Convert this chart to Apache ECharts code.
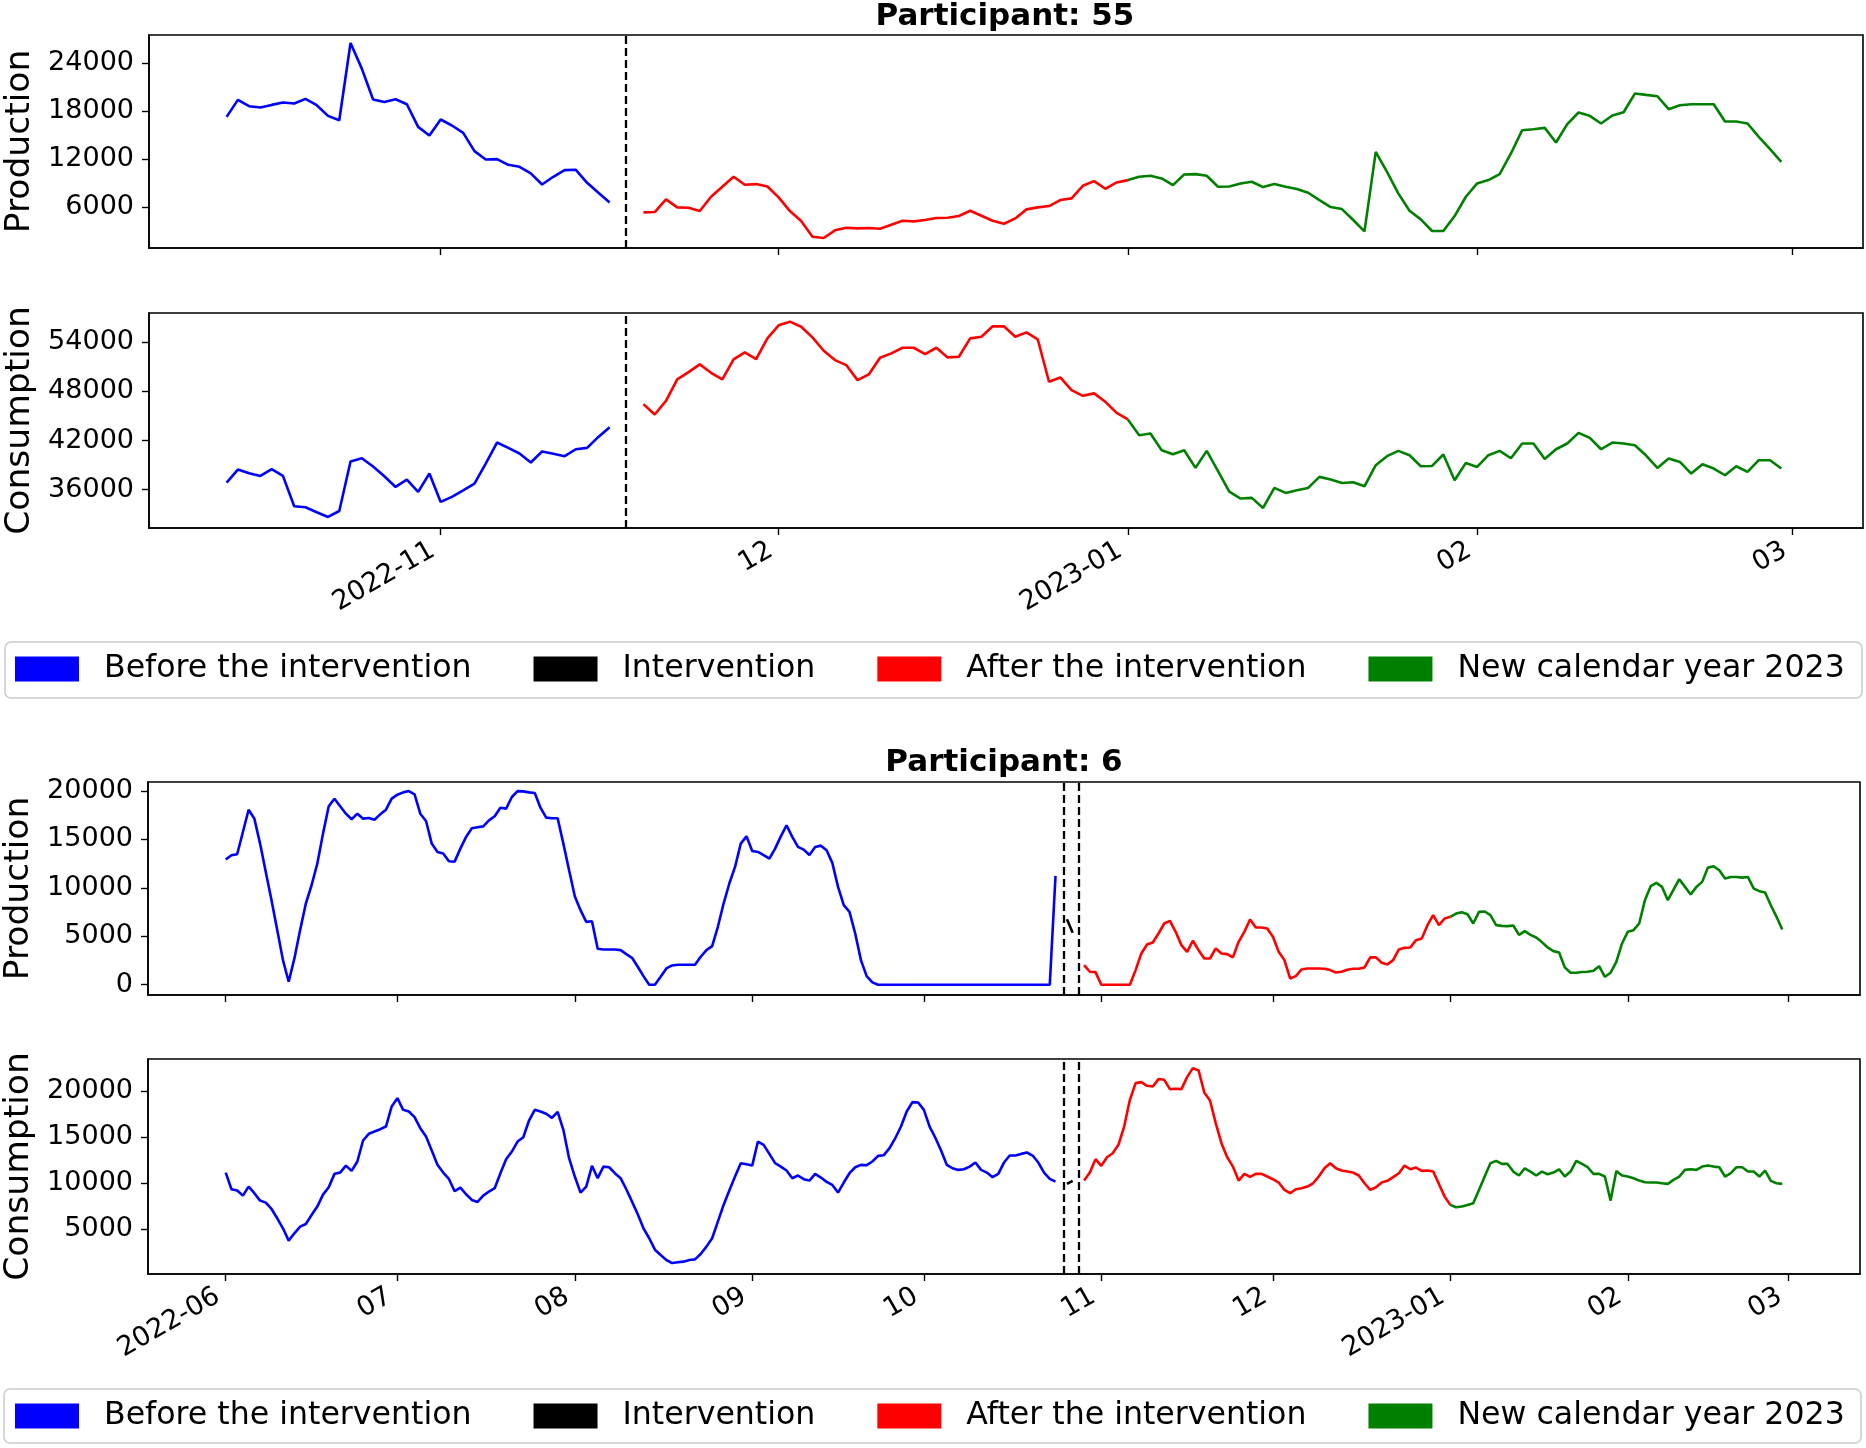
<!DOCTYPE html>
<html><head><meta charset="utf-8">
<script src="https://cdn.jsdelivr.net/npm/echarts@6/dist/echarts.min.js"></script>
<style>html,body{margin:0;padding:0;background:#fff}#c{width:1866px;height:1448px}</style>
</head><body><div id="c"></div>
<script>
// ---------------- DATA ----------------
const legendNames = ['Before the intervention', 'Intervention', 'After the intervention', 'New calendar year 2023'];
const titles = ['Participant: 55', 'Participant: 6'];

// Participant 55 (daily values)
const p55BeforeStart = '2022-10-13';
const p55AfterStart = '2022-11-19';
const p55NewStart = '2023-01-01';
const p55Intervention = ['2022-11-17T10:00'];
const p55ProdBefore = [17290,19415,18625,18458,18790,19083,18960,19540,18750,17415,16875,26540,23333,19458,19165,19500,18875,16040,14960,16960,16210,15290,13000,11960,12000,11290,11040,10210,8830,9790,10625,10665,9040,7790,6585];
const p55ProdAfter = [5335,5375,6960,5960,5920,5500,7290,8540,9790,8790,8875,8580,
  7210,5500,4250,2290,2125,3085,3415,3330,3375,3290,3790,4290,4210,4375,
  4625,4665,4875,5540,4915,4290,3915,4580,5710,5960,6125,6875,7085,8665,9250,8290,9085];
const p55ProdNew = [9375,9790,9915,9585,8750,10085,10125,9915,8540,8580,8960,9170,8500,8875,8540,8250,7790,6875,6000,5750,4375,2960,12915,10415,7710,5540,4460,3000,3000,4875,7290,
  8960,9375,10125,12710,15625,15750,15915,14085,16375,17835,17420,16460,17460,17875,20210,20040,19875,18250,18750,18875,18875,18875,16710,16710,16460,14790,13250,11665];
const p55ConsBefore = [36857,38450,38000,37670,38490,37670,33960,33830,33220,32650,33380,39430,39830,38820,37630,36320,37220,35710,37960,34490,35100,35910,36730,39180,41750,41100,40410,39310,40650,40370,40080,40930,41100,42440,43630];
const p55ConsAfter = [46450,45180,46850,49470,50360,51310,50280,49470,51920,52780,51960,54490,
  56080,56530,55910,54610,52970,51830,51220,49380,50080,52120,52650,53340,53340,52570,
  53340,52160,52240,54490,54690,55960,55960,54690,55220,54370,49180,49710,48160,47460,47760,46730,45380];
const p55ConsNew = [44570,42650,42860,40810,40320,40810,38650,40730,38240,35750,34900,34980,33750,36200,35590,35910,36200,37550,37220,36810,36890,36400,38980,40080,40730,40200,38850,38890,40290,37140,39260,
  38770,40200,40730,39830,41630,41630,39750,40930,41630,42930,42320,40930,41750,41630,41420,40160,38650,39800,39380,37960,39100,38570,37750,38850,38160,39590,39590,38570];
const p55XRange = ['2022-10-06T02:40', '2023-03-07T06:00'];
const p55TickDates = ['2022-11-01','2022-12-01','2023-01-01','2023-02-01','2023-03-01'];
const p55TickLabels = ['2022-11','12','2023-01','02','03'];
const p55ProdRange = [875, 27540];
const p55ProdTicks = [6000, 12000, 18000, 24000];
const p55ConsRange = [31300, 57590];
const p55ConsTicks = [36000, 42000, 48000, 54000];

// Participant 6 (daily values)
const p6BeforeStart = '2022-06-01';
const p6InterStart = '2022-10-26';
const p6AfterStart = '2022-10-29';
const p6NewStart = '2023-01-01';
const p6Intervention = ['2022-10-25T12:00', '2022-10-28T01:00'];
const p6ProdBefore = [12920,13366,13470,15770,18070,17145,14570,11650,8730,5640,
  2540,310,2715,5640,8385,10270,12500,15600,18420,19210,
  18420,17660,17080,17660,17145,17210,17040,17590,18070,19210,
  19620,19860,19990,19650,17660,16900,14570,13710,13540,12750,
  12710,14050,15260,16150,16250,16350,16970,17390,18280,18180,
  19380,19990,19960,19860,19790,18280,17250,17180,17180,14570,
  11820,9140,7700,6490,6560,3710,3640,3640,3640,3570,
  3160,2780,1860,890,0,0,820,1680,1990,2060,
  2060,2060,2060,2890,3570,3990,5980,8380,10450,12160,
  14570,15320,13810,13710,13370,13020,14050,15320,16460,15260,
  14230,13950,13400,14230,14360,13880,12580,10100,8210,7520,
  5290,2540,890,240,
  0,0,0,0,0,0,0,0,0,0,0,0,0,0,0,0,0,0,0,0,0,0,0,0,0,0,0,0,0,0,0,
  11236];
const p6ProdInter = [6770, 5360];
const p6ProdAfter = [2030,1340,1305,0,0,0,0,0,0,1510,
  3230,4160,4360,5290,6320,6600,5460,4090,3400,4540,
  3570,2710,2710,3750,3230,3160,2820,4430,5460,6730,
  5910,5910,5800,4950,3400,2540,650,890,1580,1680,
  1680,1680,1650,1510,1270,1340,1550,1650,1650,1790,
  2820,2820,2270,2100,2540,3640,3810,3850,4600,4780,
  6150,7180,6150,6840];
const p6ProdNew = [7010,7350,7490,7280,6320,7520,
  7560,7180,6150,6080,6050,6120,5150,5530,5150,4880,
  4400,3850,3470,3330,1790,1240,1240,1310,1340,1440,
  1920,820,1240,2370,4260,5460,5630,6320,8730,10170,
  10510,10100,8730,9830,10890,10100,9310,10100,10620,12090,
  12230,11820,10960,11130,11130,11060,11130,9930,9660,9520,
  8210,7010,5700];
const p6ConsBefore = [11120,9310,9170,8620,9600,8880,8080,7860,7170,6160,
  5070,3730,4530,5250,5540,6520,7430,8730,9530,10980,
  11120,11880,11300,12320,14600,15330,15580,15830,16120,18300,
  19200,17930,17750,17140,15940,15040,13510,11960,11120,10430,
  9090,9490,8770,8150,7930,8620,9060,9420,11050,12570,
  13400,14490,14960,16770,17930,17750,17500,17060,17720,15760,
  12680,10690,8950,9600,11850,10510,11770,11700,11050,10510,
  9310,7970,6590,5070,3990,2750,2170,1630,1300,1380,
  1450,1630,1700,2280,3080,3990,5800,7610,9170,10690,
  12140,12030,11880,14490,14130,13150,12140,11770,11340,10510,
  10800,10400,10250,10980,10580,10110,9780,8950,10040,11050,
  11700,11960,11920,12320,12930,13010,13770,14850,16120,17750,
  18770,18730,17930,16100,14900,13510,11960,11590,11410,11480,
  11770,12210,11410,11120,10620,10980,12210,12970,12970,13150,
  13300,12970,12210,11120,10430,10140];
const p6ConsInter = [9890, 10220];
const p6ConsAfter = [10250,11120,12570,11850,12790,13220,14130,16120,19020,20830,
  20940,20540,20470,21270,21190,20180,20220,20180,21480,22460,
  22210,19820,18950,16490,14310,12790,11770,10250,10980,10650,
  10980,10980,10690,10400,10040,9240,8880,9310,9420,9600,
  9960,10690,11590,12140,11590,11340,11230,11120,10800,9960,
  9240,9530,10040,10220,10620,11050,11880,11480,11670,11300,
  11340,11230,9890,8510];
const p6ConsNew = [7610,7350,7430,7610,7790,9240,
  10690,12140,12390,12060,12060,11230,10800,11590,11230,10800,
  11230,10940,11120,11480,10690,11230,12390,12060,11700,10980,
  10980,10690,8080,11300,10800,10690,10510,10250,10070,10040,
  10040,9960,9890,10330,10690,11410,11480,11410,11770,11880,
  11770,11700,10690,11050,11700,11700,11230,11230,10690,11340,
  10220,9960,9890];
const p6XRange = ['2022-05-18T10:00', '2023-03-13T14:00'];
const p6TickDates = ['2022-06-01','2022-07-01','2022-08-01','2022-09-01','2022-10-01','2022-11-01','2022-12-01','2023-01-01','2023-02-01','2023-03-01'];
const p6TickLabels = ['2022-06','07','08','09','10','11','12','2023-01','02','03'];
const p6ProdRange = [-1060, 20930];
const p6ProdTicks = [0, 5000, 10000, 15000, 20000];
const p6ConsRange = [110, 23450];
const p6ConsTicks = [5000, 10000, 15000, 20000];

// ---------------- BUILD ----------------
const DAY = 86400000;
const FONT = 'DejaVu Sans';
const COL = {before: '#0000ff', inter: '#000000', after: '#ff0000', next: '#008000'};
function ts(s) { return Date.parse(s.length === 10 ? s + 'T00:00:00Z' : s + ':00Z'); }
function daily(start, values) { const t0 = ts(start); return values.map((v, i) => [t0 + i * DAY, v]); }

const grids = [
  {left: 149, top: 35, width: 1714, height: 213},
  {left: 149, top: 313, width: 1714, height: 215},
  {left: 148, top: 782, width: 1712, height: 213},
  {left: 148, top: 1059, width: 1712, height: 215}
].map(g => Object.assign({show: true, borderColor: '#000', borderWidth: 1.6, containLabel: false, outerBoundsMode: 'none', backgroundColor: 'transparent'}, g));

function xAxis(idx, range, tickDates, tickLabels, showLabels) {
  const tv = tickDates.map(ts);
  return {
    type: 'value', gridIndex: idx, min: ts(range[0]), max: ts(range[1]), scale: true,
    axisLine: {show: true, onZero: false, lineStyle: {color: '#000', width: 1.6}},
    axisTick: {show: true, length: 7, lineStyle: {color: '#000', width: 1.4}, customValues: tv},
    axisLabel: {show: showLabels, customValues: tv, rotate: 30, fontSize: 27, fontFamily: FONT, color: '#000', margin: 16,
      padding: [0, 9, 0, 0],
      formatter: v => { const i = tv.indexOf(v); return i >= 0 ? tickLabels[i] : ''; }},
    splitLine: {show: false}
  };
}
function yAxis(idx, name, range, ticks) {
  return {
    type: 'value', gridIndex: idx, min: range[0], max: range[1], name: name,
    nameLocation: 'middle', nameGap: 102, nameRotate: 90,
    nameTextStyle: {fontSize: 34.5, fontFamily: FONT, color: '#000'},
    axisLine: {show: true, onZero: false, lineStyle: {color: '#000', width: 1.6}},
    axisTick: {show: true, length: 7, lineStyle: {color: '#000', width: 1.4}, customValues: ticks},
    axisLabel: {customValues: ticks, fontSize: 27, fontFamily: FONT, color: '#000', margin: 15, formatter: v => String(v)},
    splitLine: {show: false}
  };
}
function line(idx, name, color, data) {
  return {type: 'line', name: name, xAxisIndex: idx, yAxisIndex: idx, data: data, showSymbol: false, symbol: 'none',
    itemStyle: {color: color}, lineStyle: {color: color, width: 2.6}, silent: true, animation: false, z: 3};
}
function inter(idx, data, dates) {
  const s = line(idx, legendNames[1], COL.inter, data);
  s.markLine = {symbol: ['none', 'none'], silent: true, animation: false, label: {show: false},
    lineStyle: {type: [8, 4], color: '#000', width: 2.3}, data: dates.map(d => ({xAxis: ts(d)}))};
  return s;
}

const series = [];
// P55 production
{
  const b = daily(p55BeforeStart, p55ProdBefore), a = daily(p55AfterStart, p55ProdAfter), n = daily(p55NewStart, p55ProdNew);
  series.push(line(0, legendNames[0], COL.before, b), inter(0, [], p55Intervention),
    line(0, legendNames[2], COL.after, a.concat([n[0]])), line(0, legendNames[3], COL.next, n));
}
// P55 consumption
{
  const b = daily(p55BeforeStart, p55ConsBefore), a = daily(p55AfterStart, p55ConsAfter), n = daily(p55NewStart, p55ConsNew);
  series.push(line(1, legendNames[0], COL.before, b), inter(1, [], p55Intervention),
    line(1, legendNames[2], COL.after, a.concat([n[0]])), line(1, legendNames[3], COL.next, n));
}
// P6 production
{
  const b = daily(p6BeforeStart, p6ProdBefore), i = daily(p6InterStart, p6ProdInter), a = daily(p6AfterStart, p6ProdAfter), n = daily(p6NewStart, p6ProdNew);
  series.push(line(2, legendNames[0], COL.before, b), inter(2, i, p6Intervention),
    line(2, legendNames[2], COL.after, a.concat([n[0]])), line(2, legendNames[3], COL.next, n));
}
// P6 consumption
{
  const b = daily(p6BeforeStart, p6ConsBefore), i = daily(p6InterStart, p6ConsInter), a = daily(p6AfterStart, p6ConsAfter), n = daily(p6NewStart, p6ConsNew);
  series.push(line(3, legendNames[0], COL.before, b), inter(3, i, p6Intervention),
    line(3, legendNames[2], COL.after, a.concat([n[0]])), line(3, legendNames[3], COL.next, n));
}

function legend(top) {
  return {data: legendNames, left: 15, top: top, orient: 'horizontal', icon: 'rect', itemWidth: 64, itemHeight: 25, itemGap: 62,
    padding: 0, selectedMode: false, itemStyle: {borderWidth: 0},
    textStyle: {fontSize: 31.6, fontFamily: FONT, color: '#000', padding: [0, 0, 0, 20]}};
}

const option = {
  animation: false,
  backgroundColor: '#fff',
  grid: grids,
  xAxis: [
    xAxis(0, p55XRange, p55TickDates, p55TickLabels, false),
    xAxis(1, p55XRange, p55TickDates, p55TickLabels, true),
    xAxis(2, p6XRange, p6TickDates, p6TickLabels, false),
    xAxis(3, p6XRange, p6TickDates, p6TickLabels, true)
  ],
  yAxis: [
    yAxis(0, 'Production', p55ProdRange, p55ProdTicks),
    yAxis(1, 'Consumption', p55ConsRange, p55ConsTicks),
    yAxis(2, 'Production', p6ProdRange, p6ProdTicks),
    yAxis(3, 'Consumption', p6ConsRange, p6ConsTicks)
  ],
  legend: [legend(653), legend(1400)],
  graphic: [
    {type: 'rect', shape: {x: 5, y: 642, width: 1857, height: 56, r: 6}, style: {fill: 'rgba(255,255,255,0.8)', stroke: '#cccccc', lineWidth: 1.5}, z: -10, silent: true},
    {type: 'rect', shape: {x: 4, y: 1389, width: 1857, height: 54, r: 6}, style: {fill: 'rgba(255,255,255,0.8)', stroke: '#cccccc', lineWidth: 1.5}, z: -10, silent: true},
    {type: 'text', x: 1005, y: 17, style: {text: titles[0], font: 'bold 31px "DejaVu Sans"', fill: '#000', textAlign: 'center', textVerticalAlign: 'middle'}, silent: true},
    {type: 'text', x: 1004, y: 763, style: {text: titles[1], font: 'bold 31px "DejaVu Sans"', fill: '#000', textAlign: 'center', textVerticalAlign: 'middle'}, silent: true}
  ],
  series: series
};

const chart = echarts.init(document.getElementById('c'), null, {renderer: 'canvas', width: 1866, height: 1448});
chart.setOption(option);
</script>
</body></html>
